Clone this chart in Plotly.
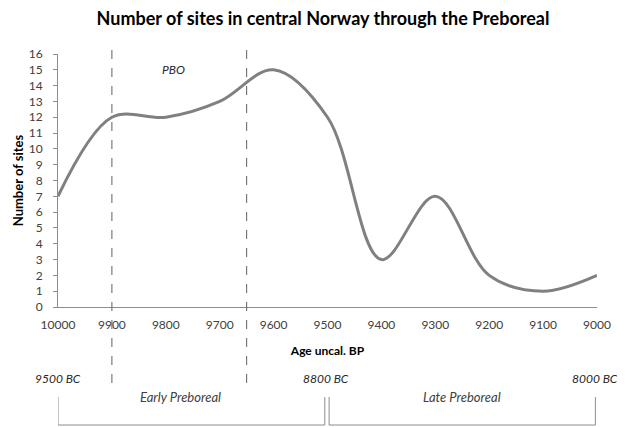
import plotly.graph_objects as go

# Data
ages = [10000, 9900, 9800, 9700, 9600, 9500, 9400, 9300, 9200, 9100, 9000]
age_labels = [str(a) for a in ages]
sites = [7, 12, 12, 13, 15, 12, 3, 7, 2, 1, 2]
y_ticks = list(range(0, 17))
pbo_bounds = [9900, 9650]
bc_labels = ["9500 BC", "8800 BC", "8000 BC"]
bc_positions = [10000, 9503, 9003]
periods = ["Early Preboreal", "Late Preboreal"]
period_spans = [(10000, 9505), (9497, 9003)]
period_label_pos = [9773, 9250]

FONT = "Lato, Carlito, Calibri, 'Open Sans', sans-serif"
TICKC = "#404040"

# page body has an 8px default margin: figure is sized/offset accordingly
W, H = 617, 420
L, T = 50, 46
PW, PH = 539, 253

fig = go.Figure()
fig.add_trace(go.Scatter(
    x=ages, y=sites, mode="lines",
    line=dict(color="#808080", width=3, shape="spline", smoothing=1.0),
    showlegend=False, hoverinfo="x+y"))

def py(screen_y):
    # screen pixel y -> paper coordinate
    return (T + 8 + PH - screen_y) / PH

shapes = []
for b in pbo_bounds:
    shapes.append(dict(type="line", xref="x", yref="paper", x0=b, x1=b,
                       y0=py(50), y1=py(383),
                       line=dict(color="#606060", width=1, dash="dash")))
for (a, b) in period_spans:
    shapes.append(dict(type="path", xref="x", yref="paper",
                       path=f"M {a},{py(397)} L {a},{py(425)} L {b},{py(425)} L {b},{py(397)}",
                       line=dict(color="#8c8c8c", width=1)))

annotations = []
for lab, pos in zip(bc_labels, bc_positions):
    annotations.append(dict(text=f"<i>{lab}</i>", x=pos, y=py(388), xref="x", yref="paper",
                            showarrow=False, font=dict(family=FONT, size=12, color="#262626")))
for lab, pos in zip(periods, period_label_pos):
    annotations.append(dict(text=f"<i>{lab}</i>", x=pos, y=py(407), xref="x", yref="paper",
                            showarrow=False, font=dict(family=FONT, size=13, color="#404040")))
annotations.append(dict(text="<i>PBO</i>", x=(pbo_bounds[0] + pbo_bounds[1]) / 2 + 10, y=py(60),
                        xref="x", yref="paper", showarrow=False,
                        font=dict(family=FONT, size=12, color="#262626")))

fig.update_layout(
    width=W, height=H,
    margin=dict(l=L, r=W - L - PW, t=T, b=H - T - PH),
    paper_bgcolor="white", plot_bgcolor="white",
    title=dict(text="<b>Number of sites in central Norway through the Preboreal</b>",
               x=(323 - 8) / W, xanchor="center", yref="container",
               y=1 - (19 - 8) / H, yanchor="middle",
               font=dict(family=FONT, size=18, color="black")),
    xaxis=dict(range=[10000, 9000], tickvals=ages, ticktext=age_labels, ticks="",
               showgrid=False, automargin=False, ticklabelstandoff=7,
               showline=True, linecolor="#8c8c8c", linewidth=1, zeroline=False,
               tickfont=dict(family=FONT, size=12, color=TICKC),
               title=dict(text="<b>Age uncal. BP</b>", standoff=15,
                          font=dict(family=FONT, size=12, color="black"))),
    yaxis=dict(range=[0, 16], tickvals=y_ticks, ticks="outside", ticklen=4,
               tickcolor="#8c8c8c", showgrid=False, showline=True, automargin=False,
               ticklabelstandoff=8,
               linecolor="#8c8c8c", linewidth=1, zeroline=False,
               tickfont=dict(family=FONT, size=12, color=TICKC),
               title=dict(text="<b>Number of sites</b>", standoff=2,
                          font=dict(family=FONT, size=13, color="black"))),
    shapes=shapes, annotations=annotations,
)

fig.write_html("out.html")
